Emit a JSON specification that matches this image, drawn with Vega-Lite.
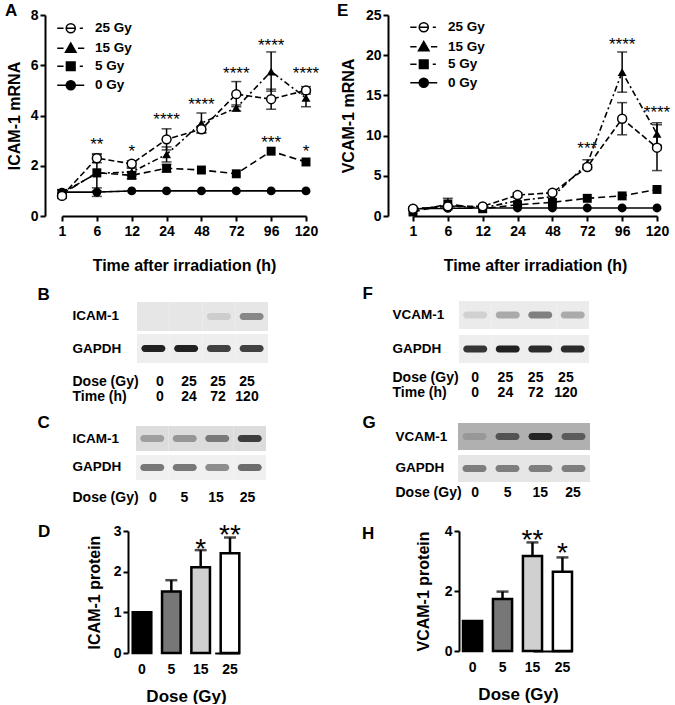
{
  "$schema": "https://vega.github.io/schema/vega-lite/v6.json",
  "padding": {"left": 5, "top": 2, "right": 0, "bottom": 0},
  "columns": 2,
  "bounds": "flush",
  "align": "each",
  "spacing": {"row": 0, "column": 65},
  "resolve": {"scale": {"fill": "independent", "stroke": "independent", "shape": "independent", "strokeDash": "independent", "opacity": "independent"}, "legend": {"shape": "independent", "fill": "independent", "stroke": "independent"}},
  "config": {
    "font": "Liberation Sans",
    "view": {"stroke": null},
    "axis": {"grid": false, "domainColor": "#000", "domainWidth": 2, "tickColor": "#000", "tickWidth": 2, "tickSize": 5, "labelColor": "#000", "labelFontSize": 14, "labelFontWeight": "bold", "labelFont": "Liberation Sans", "titleFont": "Liberation Sans", "titleFontSize": 16, "titleFontWeight": "bold", "titleColor": "#000", "labelPadding": 2},
    "legend": {"labelFont": "Liberation Sans"},
    "title": {"font": "Liberation Sans", "fontSize": 17, "fontWeight": "bold", "color": "#000"},
    "text": {"font": "Liberation Sans", "color": "#000"}
  },
  "datasets": {
    "mA": [
      {"t":1,"s":"0 Gy","v":0.95},{"t":6,"s":"0 Gy","v":0.95},{"t":12,"s":"0 Gy","v":1.0},{"t":24,"s":"0 Gy","v":1.0},{"t":48,"s":"0 Gy","v":1.0},{"t":72,"s":"0 Gy","v":1.0},{"t":96,"s":"0 Gy","v":1.0},{"t":120,"s":"0 Gy","v":1.0},
      {"t":1,"s":"5 Gy","v":0.88},{"t":6,"s":"5 Gy","v":1.72},{"t":12,"s":"5 Gy","v":1.62},{"t":24,"s":"5 Gy","v":1.9},{"t":48,"s":"5 Gy","v":1.83},{"t":72,"s":"5 Gy","v":1.68},{"t":96,"s":"5 Gy","v":2.58},{"t":120,"s":"5 Gy","v":2.15},
      {"t":1,"s":"15 Gy","v":0.92},{"t":6,"s":"15 Gy","v":1.7},{"t":12,"s":"15 Gy","v":1.75},{"t":24,"s":"15 Gy","v":2.45},{"t":48,"s":"15 Gy","v":3.7},{"t":72,"s":"15 Gy","v":4.3},{"t":96,"s":"15 Gy","v":5.75},{"t":120,"s":"15 Gy","v":4.7},
      {"t":1,"s":"25 Gy","v":0.8},{"t":6,"s":"25 Gy","v":2.3},{"t":12,"s":"25 Gy","v":2.08},{"t":24,"s":"25 Gy","v":3.05},{"t":48,"s":"25 Gy","v":3.45},{"t":72,"s":"25 Gy","v":4.85},{"t":96,"s":"25 Gy","v":4.65},{"t":120,"s":"25 Gy","v":5.0}
    ],
    "eA": [
      {"t":1,"s":"0 Gy","lo":0.85,"hi":1.05},{"t":6,"s":"0 Gy","lo":0.78,"hi":1.12},
      {"t":6,"s":"5 Gy","lo":1.0,"hi":2.44},{"t":12,"s":"5 Gy","lo":1.48,"hi":1.76},{"t":24,"s":"5 Gy","lo":1.75,"hi":2.05},
      {"t":1,"s":"15 Gy","lo":0.8,"hi":1.04},{"t":12,"s":"15 Gy","lo":1.6,"hi":1.9},{"t":24,"s":"15 Gy","lo":2.15,"hi":2.75},{"t":48,"s":"15 Gy","lo":3.3,"hi":4.1},{"t":72,"s":"15 Gy","lo":4.18,"hi":4.42},{"t":96,"s":"15 Gy","lo":4.97,"hi":6.53},{"t":120,"s":"15 Gy","lo":4.35,"hi":5.05},
      {"t":1,"s":"25 Gy","lo":0.7,"hi":0.9},{"t":6,"s":"25 Gy","lo":2.12,"hi":2.48},{"t":12,"s":"25 Gy","lo":1.95,"hi":2.2},{"t":24,"s":"25 Gy","lo":2.63,"hi":3.47},{"t":48,"s":"25 Gy","lo":3.32,"hi":3.58},{"t":72,"s":"25 Gy","lo":4.35,"hi":5.35},{"t":96,"s":"25 Gy","lo":4.25,"hi":5.05},{"t":120,"s":"25 Gy","lo":4.85,"hi":5.15}
    ],
    "sA": [
      {"t":6,"y":2.63,"lab":"**"},{"t":12,"y":2.36,"lab":"*"},{"t":24,"y":3.62,"lab":"****"},{"t":48,"y":4.22,"lab":"****"},{"t":72,"y":5.44,"lab":"****"},{"t":96,"y":6.57,"lab":"****"},{"t":120,"y":5.44,"lab":"****"},{"t":96,"y":2.69,"lab":"***"},{"t":120,"y":2.36,"lab":"*"}
    ],
    "mE": [
      {"t":1,"s":"0 Gy","v":0.9},{"t":6,"s":"0 Gy","v":0.95},{"t":12,"s":"0 Gy","v":1.0},{"t":24,"s":"0 Gy","v":1.0},{"t":48,"s":"0 Gy","v":1.0},{"t":72,"s":"0 Gy","v":1.0},{"t":96,"s":"0 Gy","v":1.0},{"t":120,"s":"0 Gy","v":1.0},
      {"t":1,"s":"5 Gy","v":0.5},{"t":6,"s":"5 Gy","v":1.5},{"t":12,"s":"5 Gy","v":0.9},{"t":24,"s":"5 Gy","v":1.4},{"t":48,"s":"5 Gy","v":1.7},{"t":72,"s":"5 Gy","v":2.2},{"t":96,"s":"5 Gy","v":2.5},{"t":120,"s":"5 Gy","v":3.3},
      {"t":1,"s":"15 Gy","v":0.8},{"t":6,"s":"15 Gy","v":1.3},{"t":12,"s":"15 Gy","v":1.0},{"t":24,"s":"15 Gy","v":1.9},{"t":48,"s":"15 Gy","v":2.4},{"t":72,"s":"15 Gy","v":6.5},{"t":96,"s":"15 Gy","v":17.9},{"t":120,"s":"15 Gy","v":10.2},
      {"t":1,"s":"25 Gy","v":0.9},{"t":6,"s":"25 Gy","v":1.2},{"t":12,"s":"25 Gy","v":1.2},{"t":24,"s":"25 Gy","v":2.6},{"t":48,"s":"25 Gy","v":2.9},{"t":72,"s":"25 Gy","v":6.1},{"t":96,"s":"25 Gy","v":12.1},{"t":120,"s":"25 Gy","v":8.5}
    ],
    "eE": [
      {"t":1,"s":"0 Gy","lo":0.7,"hi":1.1},{"t":6,"s":"5 Gy","lo":0.8,"hi":2.2},
      {"t":72,"s":"15 Gy","lo":6.0,"hi":7.0},{"t":96,"s":"15 Gy","lo":15.4,"hi":20.4},{"t":120,"s":"15 Gy","lo":8.8,"hi":11.6},
      {"t":24,"s":"25 Gy","lo":2.3,"hi":2.9},{"t":72,"s":"25 Gy","lo":5.8,"hi":6.4},{"t":96,"s":"25 Gy","lo":10.1,"hi":14.1},{"t":120,"s":"25 Gy","lo":5.65,"hi":11.35}
    ],
    "sE": [
      {"t":72,"y":7.7,"lab":"***"},{"t":96,"y":20.6,"lab":"****"},{"t":120,"y":12.15,"lab":"****"}
    ],
    "blB": [
      {"l":"1","r":"ICAM-1","k":0},{"l":"2","r":"ICAM-1","k":0},{"l":"3","r":"ICAM-1","k":0.12},{"l":"4","r":"ICAM-1","k":0.45},
      {"l":"1","r":"GAPDH","k":0.95},{"l":"2","r":"GAPDH","k":0.95},{"l":"3","r":"GAPDH","k":0.8},{"l":"4","r":"GAPDH","k":0.8}
    ],
    "tbB": [
      {"l":"1","r":"Dose (Gy)","txt":"0"},{"l":"2","r":"Dose (Gy)","txt":"25"},{"l":"3","r":"Dose (Gy)","txt":"25"},{"l":"4","r":"Dose (Gy)","txt":"25"},
      {"l":"1","r":"Time (h)","txt":"0"},{"l":"2","r":"Time (h)","txt":"24"},{"l":"3","r":"Time (h)","txt":"72"},{"l":"4","r":"Time (h)","txt":"120"}
    ],
    "blC": [
      {"l":"1","r":"ICAM-1","k":0.3},{"l":"2","r":"ICAM-1","k":0.35},{"l":"3","r":"ICAM-1","k":0.5},{"l":"4","r":"ICAM-1","k":0.8},
      {"l":"1","r":"GAPDH","k":0.55},{"l":"2","r":"GAPDH","k":0.55},{"l":"3","r":"GAPDH","k":0.45},{"l":"4","r":"GAPDH","k":0.6}
    ],
    "tbC": [
      {"l":"1","r":"Dose (Gy)","txt":"0"},{"l":"2","r":"Dose (Gy)","txt":"5"},{"l":"3","r":"Dose (Gy)","txt":"15"},{"l":"4","r":"Dose (Gy)","txt":"25"}
    ],
    "bD": [
      {"d":"0","v":1.0},{"d":"5","v":1.51,"hi":1.79},{"d":"15","v":2.11,"hi":2.53},{"d":"25","v":2.45,"hi":2.84}
    ],
    "sD": [
      {"d":"15","y":2.34,"lab":"*"},{"d":"25","y":2.69,"lab":"**"}
    ],
    "blF": [
      {"l":"1","r":"VCAM-1","k":0.12},{"l":"2","r":"VCAM-1","k":0.3},{"l":"3","r":"VCAM-1","k":0.5},{"l":"4","r":"VCAM-1","k":0.3},
      {"l":"1","r":"GAPDH","k":0.85},{"l":"2","r":"GAPDH","k":0.95},{"l":"3","r":"GAPDH","k":0.9},{"l":"4","r":"GAPDH","k":0.9}
    ],
    "tbF": [
      {"l":"1","r":"Dose (Gy)","txt":"0"},{"l":"2","r":"Dose (Gy)","txt":"25"},{"l":"3","r":"Dose (Gy)","txt":"25"},{"l":"4","r":"Dose (Gy)","txt":"25"},
      {"l":"1","r":"Time (h)","txt":"0"},{"l":"2","r":"Time (h)","txt":"24"},{"l":"3","r":"Time (h)","txt":"72"},{"l":"4","r":"Time (h)","txt":"120"}
    ],
    "blG": [
      {"l":"1","r":"VCAM-1","k":0.15},{"l":"2","r":"VCAM-1","k":0.6},{"l":"3","r":"VCAM-1","k":0.9},{"l":"4","r":"VCAM-1","k":0.55},
      {"l":"1","r":"GAPDH","k":0.5},{"l":"2","r":"GAPDH","k":0.5},{"l":"3","r":"GAPDH","k":0.5},{"l":"4","r":"GAPDH","k":0.5}
    ],
    "tbG": [
      {"l":"1","r":"Dose (Gy)","txt":"0"},{"l":"2","r":"Dose (Gy)","txt":"5"},{"l":"3","r":"Dose (Gy)","txt":"15"},{"l":"4","r":"Dose (Gy)","txt":"25"}
    ],
    "bH": [
      {"d":"0","v":1.0},{"d":"5","v":1.73,"hi":1.98},{"d":"15","v":3.17,"hi":3.62},{"d":"25","v":2.64,"hi":3.12}
    ],
    "sH": [
      {"d":"15","y":3.4,"lab":"**"},{"d":"25","y":2.97,"lab":"*"}
    ]
  },
  "concat": [
    {
      "width": 278, "height": 201,
      "title": {"text": "A", "anchor": "start", "frame": "group", "dx": -40, "offset": -25, "baseline": "alphabetic"},
      "layer": [
        {"data": {"name": "mA"}, "mark": {"type": "line", "color": "#000", "strokeWidth": 1.6},
         "encoding": {
           "x": {"field": "t", "type": "ordinal", "scale": {"type": "point", "domain": [1,6,12,24,48,72,96,120], "range": [17, 261], "padding": 0}, "axis": {"title": "Time after irradiation (h)", "labelAngle": 0, "labelPadding": 3, "titlePadding": 19}},
           "y": {"field": "v", "type": "quantitative", "scale": {"domain": [0, 8], "nice": false}, "axis": {"title": "ICAM-1 mRNA", "values": [0,2,4,6,8], "titlePadding": 8}},
           "strokeDash": {"field": "s", "type": "nominal", "scale": {"domain": ["0 Gy","5 Gy","15 Gy","25 Gy"], "range": [[1,0],[7,4],[6,3,2,3],[6,3]]}, "legend": null}
         }},
        {"data": {"name": "eA"}, "mark": {"type": "rule", "color": "#000", "strokeWidth": 1.5},
         "encoding": {"x": {"field": "t", "type": "ordinal"}, "y": {"field": "lo", "type": "quantitative", "title": "ICAM-1 mRNA"}, "y2": {"field": "hi"}}},
        {"data": {"name": "eA"}, "mark": {"type": "tick", "color": "#000", "size": 10, "thickness": 1.5},
         "encoding": {"x": {"field": "t", "type": "ordinal"}, "y": {"field": "lo", "type": "quantitative", "title": "ICAM-1 mRNA"}}},
        {"data": {"name": "eA"}, "mark": {"type": "tick", "color": "#000", "size": 10, "thickness": 1.5},
         "encoding": {"x": {"field": "t", "type": "ordinal"}, "y": {"field": "hi", "type": "quantitative", "title": "ICAM-1 mRNA"}}},
        {"data": {"name": "mA"}, "transform": [{"filter": "datum.s === '0 Gy'"}], "mark": {"type": "point", "shape": "circle", "filled": true, "size": 80, "color": "#000", "opacity": 1},
         "encoding": {"x": {"field": "t", "type": "ordinal"}, "y": {"field": "v", "type": "quantitative", "title": "ICAM-1 mRNA"}}},
        {"data": {"name": "mA"}, "transform": [{"filter": "datum.s === '5 Gy'"}], "mark": {"type": "point", "shape": "square", "filled": true, "size": 80, "color": "#000", "opacity": 1},
         "encoding": {"x": {"field": "t", "type": "ordinal"}, "y": {"field": "v", "type": "quantitative", "title": "ICAM-1 mRNA"}}},
        {"data": {"name": "mA"}, "transform": [{"filter": "datum.s === '15 Gy'"}], "mark": {"type": "point", "shape": "triangle-up", "filled": true, "size": 80, "color": "#000", "opacity": 1},
         "encoding": {"x": {"field": "t", "type": "ordinal"}, "y": {"field": "v", "type": "quantitative", "title": "ICAM-1 mRNA"}}},
        {"data": {"name": "mA"}, "transform": [{"filter": "datum.s === '25 Gy'"}], "mark": {"type": "point", "shape": "circle", "filled": true, "size": 80, "fill": "#fff", "stroke": "#000", "strokeWidth": 1.5, "opacity": 1},
         "encoding": {"x": {"field": "t", "type": "ordinal"}, "y": {"field": "v", "type": "quantitative", "title": "ICAM-1 mRNA"}}},
        {"data": {"name": "mA"}, "transform": [{"filter": "false"}], "mark": {"type": "point", "filled": true, "strokeWidth": 1.6, "opacity": 1},
         "encoding": {
           "shape": {"field": "s", "type": "nominal", "scale": {"domain": ["25 Gy","15 Gy","5 Gy","0 Gy"], "range": [
               "M-3 0H-1.6M-1 0A1 1 0 1 1 1 0A1 1 0 1 1 -1 0ZM-1 0H1M2 0H2.7",
               "M-3 0H-1.6M1.6 0H3M0 -1.15L1.15 0.85L-1.15 0.85Z",
               "M-3 0H-1.6M-0.95 -0.95H0.95V0.95H-0.95ZM2 0H2.7",
               "M-3 0H3M-1 0A1 1 0 1 1 1 0A1 1 0 1 1 -1 0Z"]},
             "legend": {"orient": "none", "legendX": 19, "legendY": 6.5, "title": null, "padding": 0, "rowPadding": 3, "labelOffset": 17.5, "labelFontSize": 13.5, "labelFontWeight": "bold", "labelColor": "#000", "symbolSize": 81, "symbolStrokeWidth": 1.6, "symbolOpacity": 1}},
           "fill": {"field": "s", "type": "nominal", "scale": {"domain": ["25 Gy","15 Gy","5 Gy","0 Gy"], "range": ["#ffffff","#000000","#000000","#000000"]},
             "legend": {"orient": "none", "legendX": 19, "legendY": 6.5, "title": null, "padding": 0, "rowPadding": 3, "labelOffset": 17.5, "labelFontSize": 13.5, "labelFontWeight": "bold", "labelColor": "#000", "symbolSize": 81, "symbolStrokeWidth": 1.6, "symbolOpacity": 1}},
           "stroke": {"field": "s", "type": "nominal", "scale": {"domain": ["25 Gy","15 Gy","5 Gy","0 Gy"], "range": ["#000000","#000000","#000000","#000000"]},
             "legend": {"orient": "none", "legendX": 19, "legendY": 6.5, "title": null, "padding": 0, "rowPadding": 3, "labelOffset": 17.5, "labelFontSize": 13.5, "labelFontWeight": "bold", "labelColor": "#000", "symbolSize": 81, "symbolStrokeWidth": 1.6, "symbolOpacity": 1}}
         }},
        {"data": {"name": "sA"}, "mark": {"type": "text", "fontSize": 17, "baseline": "alphabetic"},
         "encoding": {"x": {"field": "t", "type": "ordinal"}, "y": {"field": "y", "type": "quantitative", "title": "ICAM-1 mRNA"}, "text": {"field": "lab"}}}
      ]
    },
    {
      "width": 287, "height": 201,
      "title": {"text": "E", "anchor": "start", "frame": "group", "dx": -51, "offset": -25, "baseline": "alphabetic"},
      "layer": [
        {"data": {"name": "mE"}, "mark": {"type": "line", "color": "#000", "strokeWidth": 1.6},
         "encoding": {
           "x": {"field": "t", "type": "ordinal", "scale": {"type": "point", "domain": [1,6,12,24,48,72,96,120], "range": [25, 269], "padding": 0}, "axis": {"title": "Time after irradiation (h)", "labelAngle": 0, "labelPadding": 3, "titlePadding": 19}},
           "y": {"field": "v", "type": "quantitative", "scale": {"domain": [0, 25], "nice": false}, "axis": {"title": "VCAM-1 mRNA", "values": [0,5,10,15,20,25], "titlePadding": 9}},
           "strokeDash": {"field": "s", "type": "nominal", "scale": {"domain": ["0 Gy","5 Gy","15 Gy","25 Gy"], "range": [[1,0],[7,4],[6,3,2,3],[6,3]]}, "legend": null}
         }},
        {"data": {"name": "eE"}, "mark": {"type": "rule", "color": "#000", "strokeWidth": 1.5},
         "encoding": {"x": {"field": "t", "type": "ordinal"}, "y": {"field": "lo", "type": "quantitative", "title": "VCAM-1 mRNA"}, "y2": {"field": "hi"}}},
        {"data": {"name": "eE"}, "mark": {"type": "tick", "color": "#000", "size": 10, "thickness": 1.5},
         "encoding": {"x": {"field": "t", "type": "ordinal"}, "y": {"field": "lo", "type": "quantitative", "title": "VCAM-1 mRNA"}}},
        {"data": {"name": "eE"}, "mark": {"type": "tick", "color": "#000", "size": 10, "thickness": 1.5},
         "encoding": {"x": {"field": "t", "type": "ordinal"}, "y": {"field": "hi", "type": "quantitative", "title": "VCAM-1 mRNA"}}},
        {"data": {"name": "mE"}, "transform": [{"filter": "datum.s === '0 Gy'"}], "mark": {"type": "point", "shape": "circle", "filled": true, "size": 80, "color": "#000", "opacity": 1},
         "encoding": {"x": {"field": "t", "type": "ordinal"}, "y": {"field": "v", "type": "quantitative", "title": "VCAM-1 mRNA"}}},
        {"data": {"name": "mE"}, "transform": [{"filter": "datum.s === '5 Gy'"}], "mark": {"type": "point", "shape": "square", "filled": true, "size": 80, "color": "#000", "opacity": 1},
         "encoding": {"x": {"field": "t", "type": "ordinal"}, "y": {"field": "v", "type": "quantitative", "title": "VCAM-1 mRNA"}}},
        {"data": {"name": "mE"}, "transform": [{"filter": "datum.s === '15 Gy'"}], "mark": {"type": "point", "shape": "triangle-up", "filled": true, "size": 80, "color": "#000", "opacity": 1},
         "encoding": {"x": {"field": "t", "type": "ordinal"}, "y": {"field": "v", "type": "quantitative", "title": "VCAM-1 mRNA"}}},
        {"data": {"name": "mE"}, "transform": [{"filter": "datum.s === '25 Gy'"}], "mark": {"type": "point", "shape": "circle", "filled": true, "size": 80, "fill": "#fff", "stroke": "#000", "strokeWidth": 1.5, "opacity": 1},
         "encoding": {"x": {"field": "t", "type": "ordinal"}, "y": {"field": "v", "type": "quantitative", "title": "VCAM-1 mRNA"}}},
        {"data": {"name": "mE"}, "transform": [{"filter": "false"}], "mark": {"type": "point", "filled": true, "strokeWidth": 1.6, "opacity": 1},
         "encoding": {
           "shape": {"field": "s", "type": "nominal", "scale": {"domain": ["25 Gy","15 Gy","5 Gy","0 Gy"], "range": [
               "M-3 0H-1.6M-1 0A1 1 0 1 1 1 0A1 1 0 1 1 -1 0ZM-1 0H1M2 0H2.7",
               "M-3 0H-1.6M1.6 0H3M0 -1.15L1.15 0.85L-1.15 0.85Z",
               "M-3 0H-1.6M-0.95 -0.95H0.95V0.95H-0.95ZM2 0H2.7",
               "M-3 0H3M-1 0A1 1 0 1 1 1 0A1 1 0 1 1 -1 0Z"]},
             "legend": {"orient": "none", "legendX": 29, "legendY": 5.5, "title": null, "padding": 0, "rowPadding": 2.5, "labelOffset": 17.5, "labelFontSize": 13.5, "labelFontWeight": "bold", "labelColor": "#000", "symbolSize": 81, "symbolStrokeWidth": 1.6, "symbolOpacity": 1}},
           "fill": {"field": "s", "type": "nominal", "scale": {"domain": ["25 Gy","15 Gy","5 Gy","0 Gy"], "range": ["#ffffff","#000000","#000000","#000000"]},
             "legend": {"orient": "none", "legendX": 29, "legendY": 5.5, "title": null, "padding": 0, "rowPadding": 2.5, "labelOffset": 17.5, "labelFontSize": 13.5, "labelFontWeight": "bold", "labelColor": "#000", "symbolSize": 81, "symbolStrokeWidth": 1.6, "symbolOpacity": 1}},
           "stroke": {"field": "s", "type": "nominal", "scale": {"domain": ["25 Gy","15 Gy","5 Gy","0 Gy"], "range": ["#000000","#000000","#000000","#000000"]},
             "legend": {"orient": "none", "legendX": 29, "legendY": 5.5, "title": null, "padding": 0, "rowPadding": 2.5, "labelOffset": 17.5, "labelFontSize": 13.5, "labelFontWeight": "bold", "labelColor": "#000", "symbolSize": 81, "symbolStrokeWidth": 1.6, "symbolOpacity": 1}}
         }},
        {"data": {"name": "sE"}, "mark": {"type": "text", "fontSize": 17, "baseline": "alphabetic"},
         "encoding": {"x": {"field": "t", "type": "ordinal"}, "y": {"field": "y", "type": "quantitative", "title": "VCAM-1 mRNA"}, "text": {"field": "lab"}}}
      ]
    },
    {
      "width": 223, "height": 150,
      "data": {"name": "blB"},
      "encoding": {
        "x": {"field": "l", "type": "nominal", "scale": {"type": "band", "domain": ["1","2","3","4"], "range": [92, 223], "paddingInner": 0, "paddingOuter": 0}, "axis": null},
        "y": {"field": "r", "type": "nominal", "scale": {"type": "band", "domain": ["ICAM-1","GAPDH"], "range": [86, 147], "paddingInner": 0.094, "paddingOuter": 0},
          "axis": {"title": "B", "titleAngle": 0, "titleX": -8, "titleY": 83, "titleAlign": "left", "titleBaseline": "alphabetic", "titleFontSize": 17, "domain": false, "ticks": false, "labelAlign": "left", "labelPadding": -27, "labelFontSize": 13.5}}
      },
      "layer": [
        {"mark": {"type": "rect"}, "encoding": {"fill": {"field": "r", "type": "nominal", "scale": {"domain": ["ICAM-1","GAPDH"], "range": ["#e6e6e6","#eeeeee"]}, "legend": null}}},
        {"mark": {"type": "rect", "width": 24, "height": 7, "cornerRadius": 3.5, "color": "#151515"}, "encoding": {"opacity": {"field": "k", "type": "quantitative", "scale": {"domain": [0,1], "range": [0,1]}, "legend": null}}}
      ]
    },
    {
      "width": 202, "height": 150,
      "data": {"name": "blF"},
      "encoding": {
        "x": {"field": "l", "type": "nominal", "scale": {"type": "band", "domain": ["1","2","3","4"], "range": [71, 201], "paddingInner": 0, "paddingOuter": 0}, "axis": null},
        "y": {"field": "r", "type": "nominal", "scale": {"type": "band", "domain": ["VCAM-1","GAPDH"], "range": [85, 147], "paddingInner": 0.17, "paddingOuter": 0},
          "axis": {"title": "F", "titleAngle": 0, "titleX": -26, "titleY": 82, "titleAlign": "left", "titleBaseline": "alphabetic", "titleFontSize": 17, "domain": false, "ticks": false, "labelAlign": "left", "labelPadding": -4, "labelFontSize": 13.5}}
      },
      "layer": [
        {"mark": {"type": "rect"}, "encoding": {"fill": {"field": "r", "type": "nominal", "scale": {"domain": ["VCAM-1","GAPDH"], "range": ["#ebebeb","#eeeeee"]}, "legend": null}}},
        {"mark": {"type": "rect", "width": 24, "height": 7, "cornerRadius": 3.5, "color": "#151515"}, "encoding": {"opacity": {"field": "k", "type": "quantitative", "scale": {"domain": [0,1], "range": [0,1]}, "legend": null}}}
      ]
    },
    {
      "width": 223, "height": 44,
      "data": {"name": "tbB"},
      "mark": {"type": "text", "fontSize": 14, "fontWeight": "bold"},
      "encoding": {
        "x": {"field": "l", "type": "nominal", "scale": {"type": "band", "domain": ["1","2","3","4"], "range": [100.5, 216.5], "paddingInner": 0, "paddingOuter": 0}, "axis": null},
        "y": {"field": "r", "type": "nominal", "scale": {"type": "band", "domain": ["Dose (Gy)","Time (h)"], "range": [8.5, 38.5], "paddingInner": 0, "paddingOuter": 0},
          "axis": {"title": null, "domain": false, "ticks": false, "labelAlign": "left", "labelPadding": -27, "labelFontSize": 14}},
        "text": {"field": "txt"}
      }
    },
    {
      "width": 202, "height": 44,
      "data": {"name": "tbF"},
      "mark": {"type": "text", "fontSize": 14, "fontWeight": "bold"},
      "encoding": {
        "x": {"field": "l", "type": "nominal", "scale": {"type": "band", "domain": ["1","2","3","4"], "range": [72, 193], "paddingInner": 0, "paddingOuter": 0}, "axis": null},
        "y": {"field": "r", "type": "nominal", "scale": {"type": "band", "domain": ["Dose (Gy)","Time (h)"], "range": [4.5, 34.5], "paddingInner": 0, "paddingOuter": 0},
          "axis": {"title": null, "domain": false, "ticks": false, "labelAlign": "left", "labelPadding": -4, "labelFontSize": 14}},
        "text": {"field": "txt"}
      }
    },
    {
      "width": 223, "height": 74,
      "data": {"name": "blC"},
      "encoding": {
        "x": {"field": "l", "type": "nominal", "scale": {"type": "band", "domain": ["1","2","3","4"], "range": [91, 221], "paddingInner": 0, "paddingOuter": 0}, "axis": null},
        "y": {"field": "r", "type": "nominal", "scale": {"type": "band", "domain": ["ICAM-1","GAPDH"], "range": [16, 70], "paddingInner": 0.13, "paddingOuter": 0},
          "axis": {"title": "C", "titleAngle": 0, "titleX": -8, "titleY": 17, "titleAlign": "left", "titleBaseline": "alphabetic", "titleFontSize": 17, "domain": false, "ticks": false, "labelAlign": "left", "labelPadding": -27, "labelFontSize": 13.5}}
      },
      "layer": [
        {"mark": {"type": "rect"}, "encoding": {"fill": {"field": "r", "type": "nominal", "scale": {"domain": ["ICAM-1","GAPDH"], "range": ["#dcdcdc","#f0f0f0"]}, "legend": null}}},
        {"mark": {"type": "rect", "width": 24, "height": 7, "cornerRadius": 3.5, "color": "#151515"}, "encoding": {"opacity": {"field": "k", "type": "quantitative", "scale": {"domain": [0,1], "range": [0,1]}, "legend": null}}}
      ]
    },
    {
      "width": 202, "height": 74,
      "data": {"name": "blG"},
      "encoding": {
        "x": {"field": "l", "type": "nominal", "scale": {"type": "band", "domain": ["1","2","3","4"], "range": [70, 202], "paddingInner": 0, "paddingOuter": 0}, "axis": null},
        "y": {"field": "r", "type": "nominal", "scale": {"type": "band", "domain": ["VCAM-1","GAPDH"], "range": [13, 72], "paddingInner": 0.15, "paddingOuter": 0},
          "axis": {"title": "G", "titleAngle": 0, "titleX": -26, "titleY": 17, "titleAlign": "left", "titleBaseline": "alphabetic", "titleFontSize": 17, "domain": false, "ticks": false, "labelAlign": "left", "labelPadding": -7, "labelFontSize": 13.5}}
      },
      "layer": [
        {"mark": {"type": "rect"}, "encoding": {"fill": {"field": "r", "type": "nominal", "scale": {"domain": ["VCAM-1","GAPDH"], "range": ["#b0b0b0","#e6e6e6"]}, "legend": null}}},
        {"mark": {"type": "rect", "width": 24, "height": 7, "cornerRadius": 3.5, "color": "#151515"}, "encoding": {"opacity": {"field": "k", "type": "quantitative", "scale": {"domain": [0,1], "range": [0,1]}, "legend": null}}}
      ]
    },
    {
      "width": 223, "height": 47,
      "data": {"name": "tbC"},
      "mark": {"type": "text", "fontSize": 14, "fontWeight": "bold"},
      "encoding": {
        "x": {"field": "l", "type": "nominal", "scale": {"type": "band", "domain": ["1","2","3","4"], "range": [92.25, 218.25], "paddingInner": 0, "paddingOuter": 0}, "axis": null},
        "y": {"field": "r", "type": "nominal", "scale": {"type": "band", "domain": ["Dose (Gy)"], "range": [6.5, 21.5], "paddingInner": 0, "paddingOuter": 0},
          "axis": {"title": null, "domain": false, "ticks": false, "labelAlign": "left", "labelPadding": -27, "labelFontSize": 14}},
        "text": {"field": "txt"}
      }
    },
    {
      "width": 202, "height": 47,
      "data": {"name": "tbG"},
      "mark": {"type": "text", "fontSize": 14, "fontWeight": "bold"},
      "encoding": {
        "x": {"field": "l", "type": "nominal", "scale": {"type": "band", "domain": ["1","2","3","4"], "range": [70.7, 201.3], "paddingInner": 0, "paddingOuter": 0}, "axis": null},
        "y": {"field": "r", "type": "nominal", "scale": {"type": "band", "domain": ["Dose (Gy)"], "range": [1.5, 16.5], "paddingInner": 0, "paddingOuter": 0},
          "axis": {"title": null, "domain": false, "ticks": false, "labelAlign": "left", "labelPadding": -7, "labelFontSize": 14}},
        "text": {"field": "txt"}
      }
    },
    {
      "width": 200, "height": 122,
      "title": {"text": "D", "anchor": "start", "frame": "group", "dx": -7, "offset": -32, "baseline": "alphabetic"},
      "encoding": {
        "x": {"field": "d", "type": "nominal", "scale": {"type": "band", "domain": ["0","5","15","25"], "range": [87.7, 194.3], "paddingInner": 0.366, "paddingOuter": 0},
          "axis": {"title": "Dose (Gy)", "labelAngle": 0, "ticks": false, "labelPadding": 9, "titleX": 141, "titleFontSize": 17, "titlePadding": 12, "domainDash": [0, 82, 1000]}}
      },
      "layer": [
        {"data": {"name": "bD"}, "mark": {"type": "bar", "stroke": "#000", "strokeWidth": 2.5},
         "encoding": {
           "y": {"field": "v", "type": "quantitative", "scale": {"domain": [0, 3], "nice": false}, "axis": {"title": "ICAM-1 protein", "values": [0,1,2,3], "offset": -83, "titlePadding": 11}},
           "fill": {"field": "d", "type": "nominal", "scale": {"domain": ["0","5","15","25"], "range": ["#000000","#777777","#d0d0d0","#ffffff"]}, "legend": null}
         }},
        {"data": {"name": "bD"}, "transform": [{"filter": "isValid(datum.hi)"}], "mark": {"type": "rule", "color": "#000", "strokeWidth": 2.5},
         "encoding": {"y": {"field": "v", "type": "quantitative", "title": "ICAM-1 protein"}, "y2": {"field": "hi"}}},
        {"data": {"name": "bD"}, "transform": [{"filter": "isValid(datum.hi)"}], "mark": {"type": "tick", "color": "#000", "size": 12, "thickness": 2.5},
         "encoding": {"y": {"field": "hi", "type": "quantitative", "title": "ICAM-1 protein"}}},
        {"data": {"name": "sD"}, "mark": {"type": "text", "fontSize": 28, "baseline": "alphabetic"},
         "encoding": {"y": {"field": "y", "type": "quantitative", "title": "ICAM-1 protein"}, "text": {"field": "lab"}}}
      ]
    },
    {
      "width": 186, "height": 120,
      "title": {"text": "H", "anchor": "start", "frame": "group", "dx": -26, "offset": -32, "baseline": "alphabetic"},
      "encoding": {
        "x": {"field": "d", "type": "nominal", "scale": {"type": "band", "domain": ["0","5","15","25"], "range": [75, 184], "paddingInner": 0.362, "paddingOuter": 0},
          "axis": {"title": "Dose (Gy)", "labelAngle": 0, "ticks": false, "labelPadding": 9, "titleX": 130, "titleFontSize": 17, "titlePadding": 12, "domainDash": [0, 70, 1000]}}
      },
      "layer": [
        {"data": {"name": "bH"}, "mark": {"type": "bar", "stroke": "#000", "strokeWidth": 2.5},
         "encoding": {
           "y": {"field": "v", "type": "quantitative", "scale": {"domain": [0, 4], "nice": false}, "axis": {"title": "VCAM-1 protein", "values": [0,1,2,3,4], "offset": -71, "titlePadding": 13}},
           "fill": {"field": "d", "type": "nominal", "scale": {"domain": ["0","5","15","25"], "range": ["#000000","#777777","#d0d0d0","#ffffff"]}, "legend": null}
         }},
        {"data": {"name": "bH"}, "transform": [{"filter": "isValid(datum.hi)"}], "mark": {"type": "rule", "color": "#000", "strokeWidth": 2.5},
         "encoding": {"y": {"field": "v", "type": "quantitative", "title": "VCAM-1 protein"}, "y2": {"field": "hi"}}},
        {"data": {"name": "bH"}, "transform": [{"filter": "isValid(datum.hi)"}], "mark": {"type": "tick", "color": "#000", "size": 12, "thickness": 2.5},
         "encoding": {"y": {"field": "hi", "type": "quantitative", "title": "VCAM-1 protein"}}},
        {"data": {"name": "sH"}, "mark": {"type": "text", "fontSize": 28, "baseline": "alphabetic"},
         "encoding": {"y": {"field": "y", "type": "quantitative", "title": "VCAM-1 protein"}, "text": {"field": "lab"}}}
      ]
    }
  ]
}
